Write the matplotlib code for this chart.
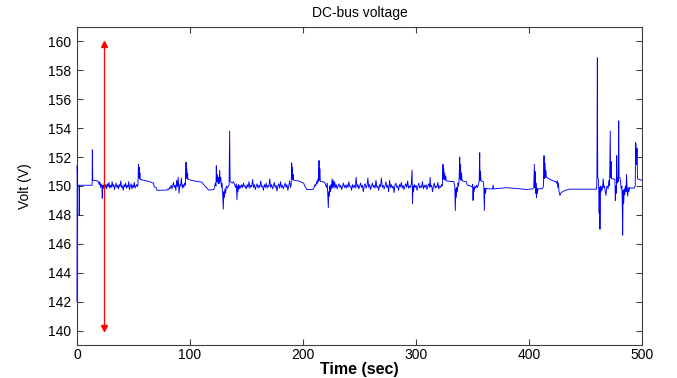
import matplotlib
matplotlib.use("Agg")
import matplotlib.pyplot as plt

plt.rcParams["font.family"] = ["Liberation Sans", "DejaVu Sans"]

# DC-bus voltage record: time in seconds, voltage in volts
time_s = [
    0.0, 0.2, 0.5, 1.8, 2.0, 2.3, 13.4, 13.6, 14.0, 18.3, 19.0, 19.6, 20.2, 20.8, 21.4, 22.0, 22.4, 22.8,
    23.5, 24.2, 24.9, 25.5, 26.2, 26.9, 27.6, 28.3, 29.0, 29.7, 30.4, 31.1, 31.8, 32.5, 33.2, 33.9,
    34.6, 35.3, 36.0, 36.7, 37.4, 38.1, 38.8, 39.5, 40.2, 40.9, 41.6, 42.3, 43.0, 43.7, 44.4, 45.1,
    45.8, 46.5, 47.2, 47.9, 48.6, 49.3, 50.0, 50.7, 51.4, 52.1, 52.8, 53.5, 54.0, 54.4, 54.7, 55.0,
    55.3, 55.7, 56.1, 60.0, 64.0, 67.8, 68.2, 70.0, 70.8, 79.6,
    80.5, 81.2, 81.9, 82.6, 83.3, 84.0, 84.7, 85.4, 86.1, 86.8, 87.5, 88.2, 88.9, 89.6, 90.3, 91.0,
    91.7, 92.4, 93.1, 93.8, 94.5, 95.2, 95.9, 96.5, 96.8, 97.1, 97.4, 97.8, 98.2, 104.0, 110.6, 112.0,
    114.5, 116.5, 121.0, 121.8, 122.4, 123.0, 123.3, 123.7, 124.2, 124.7, 125.2, 125.7, 126.3, 126.7,
    127.3, 127.8, 128.4, 129.0, 129.5, 129.9, 130.4, 130.9, 131.5, 132.2, 133.0, 134.0, 134.6, 135.1,
    135.5, 136.5, 137.5, 138.5, 139.5, 140.3, 141.0, 141.6, 142.0, 142.5, 143.0, 143.6,
    144.2, 145.0, 145.8, 146.6, 147.4, 148.2, 149.0, 149.8, 150.6, 151.4, 152.2, 153.0, 153.8, 154.6,
    155.4, 156.2, 157.0, 157.8, 158.6, 159.4, 160.2, 161.0, 161.8, 162.6, 163.4, 164.2, 165.0, 165.8,
    166.6, 167.4, 168.2, 169.0, 169.8, 170.6, 171.4, 172.2, 173.0, 173.8, 174.6, 175.4, 176.2, 177.0,
    177.8, 178.6, 179.4, 180.2, 181.0, 181.8, 182.6, 183.4, 184.2, 185.0, 185.8, 186.6, 187.4, 188.2,
    189.0, 189.6, 190.0, 190.3, 190.6, 190.9, 191.3, 191.7, 196.0, 200.6, 201.5, 203.5, 208.9, 209.8,
    210.6, 211.3, 212.0, 212.6, 213.2, 213.7, 214.2, 214.5, 214.9, 215.3, 216.0, 217.5, 219.0, 220.0,
    220.8, 221.5, 222.0, 222.4, 222.8, 223.3, 223.8, 224.3, 224.8, 225.3, 225.7, 226.2, 226.8, 227.4,
    228.0, 228.7, 229.4,
    230.2, 231.0, 231.8, 232.6, 233.4, 234.2, 235.0, 235.8, 236.6, 237.4, 238.2, 239.0, 239.8, 240.6,
    241.4, 242.2, 243.0, 243.8, 244.6, 245.4, 246.2, 247.0, 247.8, 248.6, 249.4, 250.2, 251.0, 251.8,
    252.6, 253.4, 254.2, 255.0, 255.8, 256.6, 257.4, 258.2, 259.0, 259.8, 260.6, 261.4, 262.2, 263.0,
    263.8, 264.6, 265.4, 266.2, 267.0, 267.8, 268.6, 269.4, 270.2, 271.0, 271.8, 272.6, 273.4, 274.2,
    275.0, 275.8, 276.6, 277.4, 278.2, 279.0, 279.8, 280.6, 281.4, 282.2, 283.0, 283.8, 284.6, 285.4,
    286.2, 287.0, 287.8, 288.6, 289.4, 290.2, 291.0, 291.8, 292.6, 293.4, 294.2, 295.0, 295.8, 296.5,
    296.9, 297.3, 297.8, 298.5, 299.3, 300.1, 300.9, 301.7, 302.5, 303.3, 304.1, 304.9, 305.7, 306.5,
    307.3, 308.1, 308.9, 309.7, 310.5, 311.3, 312.1, 312.5, 313.0, 313.8, 314.6, 315.4, 316.2, 317.0,
    317.8, 318.6, 319.4, 320.2, 321.0, 321.8, 322.6, 323.3, 323.9, 324.2, 324.5, 324.9, 325.3, 325.8,
    326.3, 326.8, 330.0, 333.5, 334.3, 334.8, 335.2, 335.6, 336.1, 336.6, 337.2, 337.7, 338.2, 338.7,
    339.0, 339.4, 339.8, 340.3, 340.8, 344.5, 345.5, 348.0, 349.5, 350.1, 350.5, 350.9, 351.4, 352.0,
    352.8, 353.6, 354.4, 355.2, 355.9, 356.4, 356.7, 357.1, 357.5, 359.5, 360.0, 360.5, 360.9, 361.5,
    362.1, 365.0, 367.8, 368.3, 368.7, 380.0, 390.0, 398.0, 403.5, 404.2, 404.7, 405.0, 405.4, 405.8,
    406.2, 406.6, 407.0, 407.5, 408.0, 412.0, 412.8, 413.3, 413.6, 414.0, 414.4, 414.9, 415.4, 420.0,
    423.5, 424.5, 425.0, 425.5, 426.0, 426.6, 427.4, 428.5, 432.0, 436.0, 459.8, 460.1, 460.5, 460.8,
    461.3, 461.7, 462.1, 462.5, 462.8, 463.2, 463.7, 464.2, 464.7, 465.2, 465.7, 466.2, 466.8, 467.5,
    468.1, 468.7, 469.3, 470.0, 470.7, 471.3, 471.9, 472.2, 472.6, 473.0, 474.5, 476.0, 476.4, 476.8,
    477.3, 477.6, 477.9, 478.4, 478.9, 479.4, 479.7, 480.4, 481.0, 481.6, 482.2, 482.5, 482.9, 483.3,
    483.8, 484.3, 484.8, 485.3, 485.8, 486.3, 486.8, 487.3, 487.8, 488.4, 489.0, 490.0, 493.0, 494.0,
    494.4, 494.8, 495.2, 495.6, 496.0, 497.5, 500.0,
]

volt_v = [
    142.0, 151.4, 150.05, 150.05, 148.0, 150.05, 150.05, 152.5, 150.4, 150.35, 150.25, 150.1, 150.3, 149.9, 150.15, 150.0, 149.15, 150.05,
    149.85, 150.2, 149.9, 150.1, 149.8, 150.15, 149.95, 150.25, 149.85, 150.05, 149.9, 150.3, 149.95, 150.1, 149.75, 150.0,
    150.2, 149.9, 150.05, 149.8, 150.1, 149.95, 150.35, 149.9, 150.0, 149.7, 150.1, 149.95, 150.2, 149.85, 150.05, 149.9,
    150.3, 149.75, 150.0, 150.15, 149.8, 150.05, 149.9, 150.25, 149.85, 150.0, 150.1, 149.95, 150.1, 151.5, 150.6, 151.3,
    150.5, 150.9, 150.45, 150.38, 150.3, 150.2, 149.95, 149.9, 149.7, 149.72,
    149.8, 149.75, 149.9, 149.85, 150.05, 149.8, 150.0, 150.25, 149.9, 150.05, 149.7, 150.4, 149.95, 150.6, 149.5, 150.1,
    150.0, 150.55, 149.85, 150.1, 149.9, 150.2, 150.05, 151.65, 150.6, 151.2, 150.5, 150.9, 150.45, 150.35, 150.26, 150.1,
    149.9, 149.72, 149.75, 149.9, 150.2, 150.0, 151.4, 150.3, 150.8, 150.2, 150.6, 150.15, 151.1, 150.3,
    150.6, 149.9, 150.2, 149.3, 148.4, 149.6, 149.2, 149.8, 149.5, 150.0, 149.85, 150.0, 150.05, 153.8,
    150.3, 150.25, 150.2, 150.3, 150.1, 149.9, 150.15, 149.05, 150.0, 149.6, 150.1, 149.8,
    150.05, 149.85, 150.1, 149.9, 150.2, 149.95, 150.0, 149.8, 150.1, 149.9, 150.3, 149.85, 150.05, 149.95,
    150.45, 149.9, 150.1, 149.75, 150.0, 150.15, 149.85, 150.05, 149.9, 150.35, 149.95, 150.0, 149.7, 150.1,
    149.9, 150.2, 149.85, 150.05, 149.95, 150.5, 149.9, 150.1, 149.8, 150.0, 150.25, 149.9, 150.05, 149.65,
    150.0, 150.15, 149.85, 150.3, 149.9, 150.05, 149.8, 150.0, 150.2, 149.9, 150.1, 149.7, 150.0, 150.35,
    149.9, 150.1, 151.6, 150.5, 151.3, 150.45, 150.8, 150.4, 150.35, 150.2, 150.0, 149.75, 149.75, 149.9,
    150.1, 150.0, 150.3, 150.15, 150.5, 150.3, 151.76, 150.4, 151.2, 150.35, 150.3, 150.3, 150.25, 150.1,
    149.9, 150.2, 149.2, 148.5, 149.6, 149.3, 150.0, 149.6, 150.1, 149.8, 150.5, 149.9, 150.4, 149.85,
    150.3, 149.9, 150.1,
    149.8, 150.0, 150.15, 149.9, 150.05, 149.75, 150.0, 150.2, 149.9, 150.05, 149.85, 150.1, 149.9, 150.3,
    149.95, 150.0, 149.7, 150.1, 149.9, 150.05, 149.85, 150.6, 149.9, 150.1, 149.8, 150.0, 150.2, 149.9,
    150.05, 149.6, 150.0, 150.15, 149.85, 150.0, 150.55, 149.9, 150.1, 149.75, 150.0, 150.2, 149.9, 150.05,
    149.85, 150.4, 149.9, 150.0, 149.7, 150.1, 149.95, 150.55, 149.9, 150.05, 149.8, 150.0, 150.3, 149.9,
    150.05, 149.6, 150.4, 149.9, 150.1, 149.85, 150.0, 149.55, 150.05, 150.2, 149.9, 150.0, 149.7, 150.1,
    149.95, 150.25, 149.85, 150.05, 149.75, 150.0, 150.15, 149.9, 150.35, 149.85, 150.0, 149.9, 150.1, 151.1,
    148.8, 150.0, 149.6, 150.1, 149.9, 150.05, 149.7, 150.0, 150.2, 149.85, 150.0, 149.9, 150.3, 149.8,
    150.05, 149.9, 150.1, 149.75, 150.0, 150.15, 149.9, 150.6, 149.95, 150.05, 149.6, 150.0, 150.2, 149.85,
    150.0, 149.9, 150.25, 149.8, 150.0, 149.9, 150.1, 150.0, 151.5, 150.5, 151.2, 150.45, 150.9, 150.4,
    150.7, 150.35, 150.32, 150.3, 150.0, 148.3, 149.8, 149.2, 149.9, 149.6, 150.2, 150.0, 150.6, 152.0,
    150.5, 151.5, 150.4, 150.9, 150.35, 150.3, 150.05, 150.0, 149.95, 150.1, 149.0, 149.9, 149.6, 150.0,
    149.85, 150.05, 149.9, 150.1, 150.3, 152.3, 150.4, 151.0, 150.35, 150.3, 150.0, 148.3, 149.85, 149.5,
    149.85, 149.8, 149.8, 150.05, 149.8, 149.88, 149.82, 149.76, 149.8, 149.9, 151.5, 149.9, 151.0, 149.5,
    150.2, 149.2, 149.85, 149.5, 149.8, 149.82, 150.0, 152.1, 150.5, 151.6, 150.6, 151.1, 150.6, 150.4,
    150.3, 150.2, 150.35, 149.9, 150.2, 149.6, 149.35, 149.55, 149.7, 149.78, 149.78, 150.6, 158.87, 150.6,
    150.5, 149.8, 148.1, 149.9, 147.0, 150.0, 149.6, 149.95, 149.7, 150.0, 150.5, 149.9, 150.0, 149.6,
    149.35, 149.9, 150.0, 149.8, 150.4, 150.0, 153.8, 150.6, 151.7, 150.5, 150.5, 150.45, 149.0, 150.0,
    149.5, 152.1, 150.2, 150.6, 150.3, 154.5, 150.6, 150.6, 150.3, 149.8, 150.0, 148.8, 146.6, 149.7,
    148.8, 149.8, 149.4, 150.0, 149.6, 150.8, 149.8, 149.3, 149.9, 149.6, 149.9, 149.85, 149.85, 150.0,
    153.0, 152.7, 151.5, 152.6, 150.5, 150.45, 150.4,
]

# Span marker drawn as a double-headed vertical arrow
span_time = 23.5
span_low = 140.2
span_high = 159.8

x_ticks = [0, 100, 200, 300, 400, 500]
y_ticks = [140, 142, 144, 146, 148, 150, 152, 154, 156, 158, 160]

fig = plt.figure(figsize=(6.77, 3.78), dpi=100)
ax = fig.add_axes([0.1137, 0.0873, 0.8346, 0.8413])

ax.plot(time_s, volt_v, color=(0, 0, 1), lw=0.65, zorder=3, clip_on=False)

ax.plot([span_time, span_time], [span_low, span_high], color="red", lw=0.9, zorder=3)
ax.plot([span_time], [span_high], marker="^", color="red", ms=5, mec="red", zorder=3)
ax.plot([span_time], [span_low], marker="v", color="red", ms=5, mec="red", zorder=3)

ax.set_xlim(0, 500)
ax.set_ylim(139, 161)
ax.set_xticks(x_ticks)
ax.set_yticks(y_ticks)
ax.tick_params(axis="both", direction="in", top=True, right=True, length=4, width=0.8,
               color="#404040", labelsize=10)
ax.tick_params(axis="x", pad=2)
ax.tick_params(axis="y", pad=4)
for side in ax.spines.values():
    side.set_color("#404040")
    side.set_linewidth(0.8)

ax.set_title("DC-bus voltage", fontsize=10, pad=7)
ax.set_xlabel("Time (sec)", fontsize=11.5, fontweight="bold", labelpad=0)
ax.set_ylabel("Volt (V)", fontsize=10, labelpad=12)

fig.savefig("out.png", dpi=100, facecolor="white")
